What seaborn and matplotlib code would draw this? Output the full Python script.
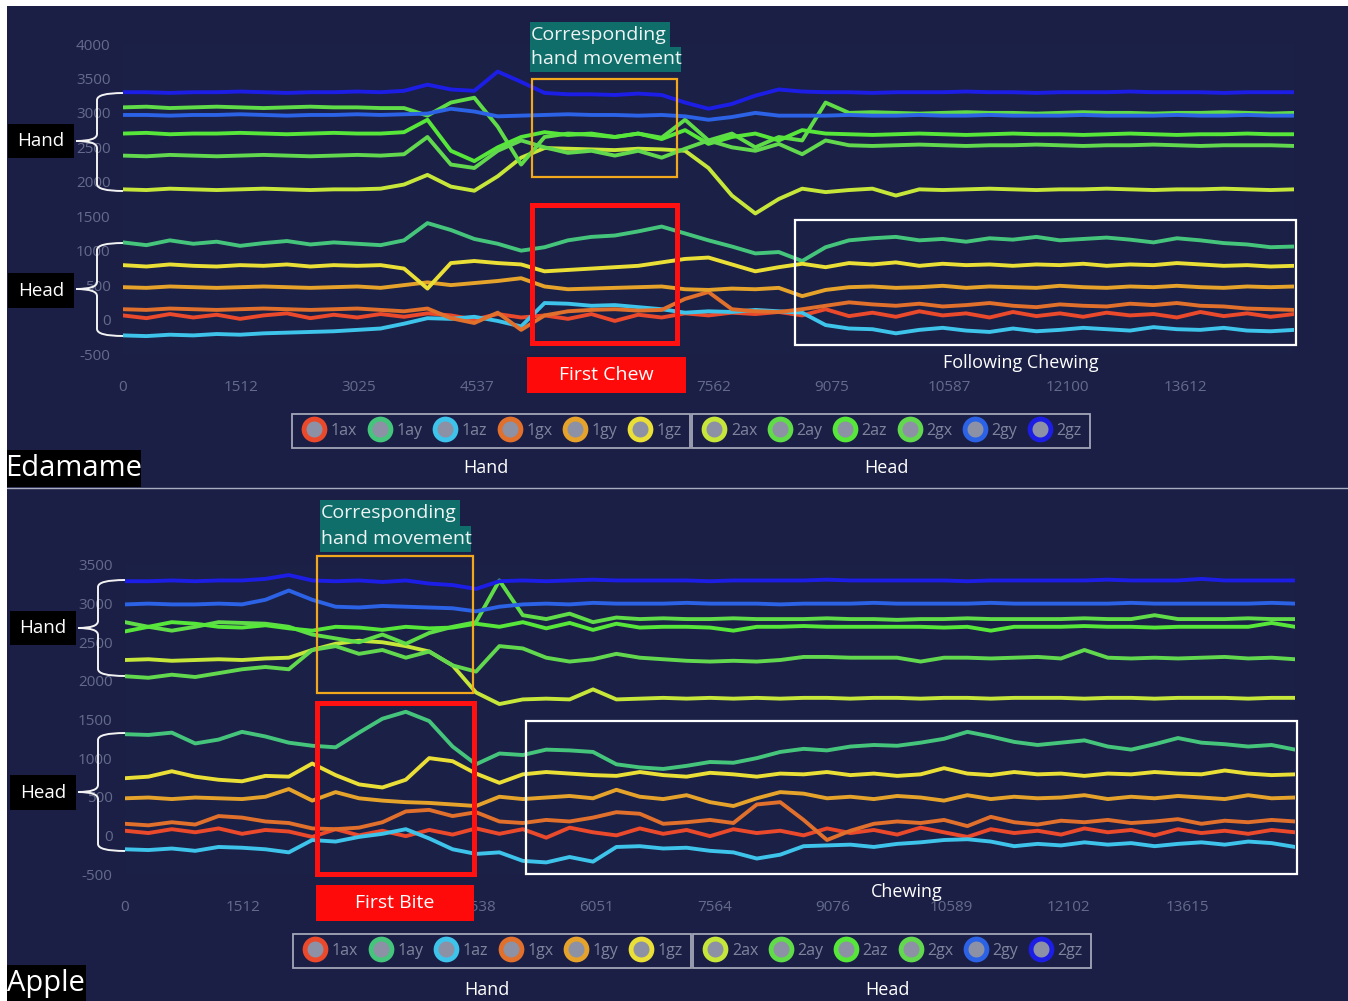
import matplotlib
matplotlib.use("Agg")
import matplotlib.pyplot as plt
from matplotlib.lines import Line2D
from matplotlib.patches import Rectangle, PathPatch
from matplotlib.path import Path
import pandas as pd
import seaborn as sns

# one reading every 300 samples
t = list(range(0, 15001, 300))

sensors = ["1ax", "1ay", "1az", "1gx", "1gy", "1gz", "2ax", "2ay", "2az", "2gx", "2gy", "2gz"]
colors = {
    "1ax": "#ea4a2b", "1ay": "#45c57c", "1az": "#3ec3ea", "1gx": "#e0702c",
    "1gy": "#e6a32b", "1gz": "#eadf36", "2ax": "#c6e63a", "2ay": "#5fdc48",
    "2az": "#57e63a", "2gx": "#62d84f", "2gy": "#2b62e6", "2gz": "#1c1ee6",
}

# ---- Edamame ----
ed_2gz = [3300, 3300, 3290, 3300, 3300, 3310, 3300, 3290, 3300, 3300, 3310, 3300, 3320,
          3410, 3340, 3320, 3600, 3450, 3290, 3270, 3270, 3260, 3280, 3260, 3150, 3060, 3130, 3250, 3340, 3310,
          3300, 3300, 3290, 3300, 3300, 3300, 3310, 3300, 3300, 3290, 3300, 3300, 3300, 3310, 3300, 3300,
          3300, 3290, 3300, 3300, 3300]
ed_2gy = [2970, 2970, 2960, 2970, 2970, 2980, 2970, 2960, 2970, 2970, 2980, 2970,
          2980, 2990, 3060, 3020, 2950, 2960, 2970, 2980, 2970, 2970, 2960, 2970, 2950, 2900, 2940, 3000, 2960, 2960,
          2960, 2970, 2960, 2960, 2970, 2960, 2960, 2970, 2960, 2960, 2960, 2970, 2960, 2960, 2960, 2970,
          2960, 2960, 2970, 2960, 2960]
ed_2ay = [3080, 3090, 3070, 3080, 3090, 3080, 3070, 3080, 3090, 3080, 3080, 3070,
          3070, 2960, 3150, 3220, 2800, 2250, 2650, 2700, 2680, 2650, 2700, 2640, 2900, 2600, 2700, 2500, 2650, 2600,
          3150, 3000, 3010, 3000, 2990, 3000, 3010, 3000, 3000, 2990, 3000, 3010, 3000, 3000, 2990, 3000,
          3000, 3010, 3000, 2990, 3000]
ed_2az = [2700, 2710, 2690, 2700, 2700, 2710, 2700, 2690, 2700, 2710, 2700, 2700,
          2720, 2900, 2450, 2300, 2500, 2650, 2720, 2680, 2700, 2650, 2700, 2620, 2750, 2550, 2650, 2700, 2600, 2750,
          2700, 2690, 2680, 2690, 2700, 2690, 2680, 2690, 2700, 2690, 2690, 2680, 2690, 2700, 2690, 2680,
          2690, 2690, 2700, 2690, 2690]
ed_2gx = [2380, 2370, 2390, 2380, 2370, 2380, 2390, 2380, 2370, 2380, 2390, 2380,
          2400, 2650, 2250, 2200, 2450, 2600, 2500, 2420, 2450, 2380, 2450, 2350, 2480, 2600, 2500, 2450, 2550, 2400,
          2600, 2530, 2520, 2530, 2540, 2530, 2520, 2530, 2530, 2540, 2530, 2520, 2530, 2530, 2540, 2530,
          2520, 2530, 2530, 2530, 2520]
ed_2ax = [1890, 1880, 1900, 1890, 1880, 1890, 1900, 1890, 1880, 1890, 1890,
          1900, 1960, 2100, 1930, 1870, 2080, 2350, 2490, 2480, 2470, 2460, 2480, 2470, 2450, 2200, 1800, 1540, 1750, 1900,
          1850, 1880, 1900, 1800, 1890, 1880, 1890, 1900, 1890, 1880, 1890, 1890, 1900, 1890, 1880, 1890,
          1890, 1900, 1890, 1880, 1890]
ed_1ay = [1120, 1080, 1150, 1100, 1130, 1070, 1110, 1140, 1090, 1120, 1100, 1080, 1150, 1400, 1300, 1170, 1100,
          1000, 1050, 1150, 1200, 1220, 1280, 1350, 1250, 1150, 1060, 960, 980, 850, 1050, 1150, 1180, 1200, 1150,
          1170, 1130, 1180, 1160, 1200, 1150, 1170, 1190, 1160, 1120, 1180, 1150, 1110, 1090, 1050, 1060]
ed_1gz = [790, 770, 800, 780, 770, 790, 780, 800, 770, 790, 780, 790, 740, 450, 820, 850, 820, 800, 700, 720,
          740, 760, 780, 830, 880, 900, 800, 700, 760, 810, 760, 820, 800, 830, 780, 810, 790, 800, 780, 800,
          790, 810, 780, 800, 790, 820, 800, 780, 790, 770, 780]
ed_1gy = [470, 460, 480, 470, 460, 470, 480, 470, 460, 470, 480, 460, 500, 540, 500, 530, 560, 600, 480, 440,
          450, 460, 470, 480, 440, 430, 450, 440, 460, 340, 430, 470, 480, 460, 470, 490, 460, 480, 470, 460,
          490, 470, 460, 480, 470, 490, 470, 460, 480, 470, 480]
ed_1gx = [150, 140, 160, 150, 140, 150, 160, 150, 140, 150, 160, 140, 120, 160, 20, -50, 100, -150, 60, 120,
          140, 150, 130, 140, 300, 400, 150, 120, 110, 150, 200, 250, 220, 200, 230, 190, 210, 240, 200, 180,
          220, 200, 190, 230, 210, 240, 200, 190, 160, 150, 140]
ed_1ax = [60, 20, 80, 30, 70, 10, 60, 90, 20, 70, 30, 80, 40, 90, 60, 0, 80, 30, 60, 10,
          80, -20, 70, 30, 90, 60, 100, 80, 110, 60, 150, 50, 100, 40, 120, 60, 90, 30, 110, 50,
          90, 40, 100, 60, 80, 30, 110, 50, 90, 40, 80]
ed_1az = [-230, -240, -220, -230, -210, -220, -200, -190, -180, -170, -150, -130, -60, 20, 10, 40, -20, -100, 240, 230,
          200, 210, 180, 150, 100, 120, 110, 140, 120, 100, -80, -130, -140, -200, -150, -120, -160, -180, -130, -170,
          -150, -120, -140, -160, -110, -140, -150, -120, -160, -170, -150]

# ---- Apple ----
ap_2gz = [3290, 3290, 3300, 3290, 3300, 3300, 3320, 3370, 3300, 3290, 3300, 3280, 3300, 3260, 3240, 3190, 3290,
          3300, 3290, 3300, 3310, 3300, 3300, 3300, 3300, 3290, 3300, 3300, 3300, 3300, 3310, 3300, 3300, 3300,
          3300, 3300, 3290, 3300, 3300, 3300, 3300, 3300, 3310, 3300, 3300, 3300, 3320, 3300, 3300, 3300, 3300]
ap_2gy = [2990, 3000, 2990, 2990, 3000, 2990, 3050, 3170, 3050, 2960, 2950, 2970, 2960, 2950, 2940, 2900, 2960,
          2990, 3000, 2990, 3010, 3000, 3000, 3000, 3010, 3000, 3000, 3000, 2990, 3000, 3000, 3000, 3010, 3000,
          3000, 3000, 3000, 3010, 3000, 3000, 3000, 3000, 3000, 3010, 3000, 3000, 3000, 3000, 3000, 3010, 3000]
ap_2ay = [2760, 2700, 2650, 2700, 2760, 2750, 2740, 2700, 2600, 2550, 2500, 2600, 2480, 2620, 2700, 2760, 3300,
          2850, 2800, 2870, 2760, 2820, 2800, 2810, 2800, 2800, 2810, 2800, 2800, 2800, 2810, 2800, 2800, 2790,
          2800, 2800, 2810, 2800, 2800, 2800, 2800, 2810, 2800, 2800, 2850, 2800, 2800, 2800, 2810, 2800, 2800]
ap_2az = [2640, 2700, 2760, 2740, 2700, 2690, 2720, 2680, 2650, 2700, 2690, 2660, 2700, 2680, 2690, 2740, 2700,
          2760, 2680, 2750, 2660, 2740, 2690, 2700, 2700, 2690, 2650, 2700, 2700, 2710, 2700, 2700, 2700, 2700,
          2700, 2690, 2700, 2650, 2700, 2700, 2700, 2710, 2700, 2700, 2690, 2700, 2700, 2700, 2700, 2750, 2700]
ap_2gx = [2060, 2040, 2080, 2050, 2100, 2150, 2180, 2150, 2400, 2450, 2350, 2400, 2300, 2380, 2200, 2120, 2450,
          2420, 2300, 2250, 2280, 2350, 2300, 2280, 2260, 2250, 2260, 2250, 2270, 2310, 2310, 2300, 2300, 2300,
          2250, 2300, 2300, 2290, 2300, 2310, 2290, 2400, 2300, 2290, 2300, 2290, 2300, 2310, 2290, 2300, 2280]
ap_2ax = [2270, 2280, 2260, 2270, 2280, 2270, 2290, 2300, 2400, 2480, 2520, 2500, 2450, 2380, 2200, 1850, 1700,
          1760, 1770, 1760, 1890, 1760, 1770, 1780, 1770, 1780, 1770, 1780, 1770, 1780, 1780, 1770, 1780, 1780,
          1770, 1780, 1780, 1770, 1780, 1780, 1780, 1770, 1780, 1780, 1770, 1780, 1780, 1780, 1770, 1780, 1780]
ap_1ay = [1310, 1300, 1330, 1190, 1240, 1340, 1280, 1200, 1160, 1140, 1330, 1510, 1600, 1480, 1150, 920, 1060,
          1040, 1110, 1100, 1080, 920, 880, 860, 900, 950, 940, 1000, 1080, 1120, 1100, 1150, 1170, 1160,
          1200, 1250, 1340, 1280, 1210, 1170, 1200, 1230, 1150, 1110, 1180, 1260, 1200, 1180, 1150, 1170, 1110]
ap_1gz = [740, 760, 830, 760, 720, 700, 770, 760, 930, 780, 660, 620, 720, 1000, 960, 800, 680, 790, 820, 800,
          780, 770, 820, 780, 760, 810, 790, 760, 800, 790, 820, 780, 800, 770, 790, 870, 800, 780, 820, 790,
          800, 770, 800, 790, 820, 800, 790, 840, 800, 780, 790]
ap_1gy = [480, 490, 470, 490, 480, 470, 500, 600, 450, 560, 480, 450, 430, 420, 400, 380, 500, 470, 490, 510,
          480, 590, 500, 470, 520, 430, 380, 480, 560, 540, 480, 500, 470, 510, 490, 450, 520, 470, 500, 480,
          490, 520, 470, 500, 480, 510, 490, 470, 520, 480, 490]
ap_1gx = [150, 130, 170, 140, 250, 230, 180, 160, 90, 80, 100, 170, 310, 330, 250, 300, 180, 160, 200, 180,
          230, 300, 280, 150, 170, 200, 160, 400, 430, 200, -60, 60, 150, 180, 160, 200, 120, 240, 170, 140,
          190, 170, 200, 160, 180, 210, 150, 190, 170, 200, 180]
ap_1ax = [60, 30, 80, 40, 90, 20, 70, 50, -20, 80, 0, 60, -10, 70, 10, 90, 20, 80, -30, 100,
          40, 0, 90, 20, 70, -10, 80, 30, 60, 0, 90, 30, 70, 10, 100, 40, -20, 80, 30, 60,
          10, 90, 40, 70, 0, 80, 30, 60, 20, 70, 40]
ap_1az = [-180, -190, -170, -200, -150, -160, -180, -220, -60, -80, -20, 20, 80, -40, -180, -240, -220, -330, -350, -280,
          -340, -150, -140, -170, -160, -200, -220, -300, -250, -140, -130, -120, -150, -110, -90, -60, -50, -80, -140, -110,
          -130, -90, -120, -100, -140, -110, -90, -120, -80, -100, -150]

# tick values; labels hidden behind the annotation boxes in the screenshot are left blank
ed_xticks = [0, 1512, 3025, 4537, 6050, 7562, 9075, 10587, 12100, 13612]
ed_xlabels = ["0", "1512", "3025", "4537", "", "7562", "9075", "10587", "12100", "13612"]
ap_xticks = [0, 1512, 3025, 4538, 6051, 7564, 9076, 10589, 12102, 13615]
ap_xlabels = ["0", "1512", "", "4538", "6051", "7564", "9076", "10589", "12102", "13615"]
ed_yticks = [-500, 0, 500, 1000, 1500, 2000, 2500, 3000, 3500, 4000]
ap_yticks = [-500, 0, 500, 1000, 1500, 2000, 2500, 3000, 3500]

edamame = {"1ax": ed_1ax, "1ay": ed_1ay, "1az": ed_1az, "1gx": ed_1gx, "1gy": ed_1gy, "1gz": ed_1gz,
           "2ax": ed_2ax, "2ay": ed_2ay, "2az": ed_2az, "2gx": ed_2gx, "2gy": ed_2gy, "2gz": ed_2gz}
apple = {"1ax": ap_1ax, "1ay": ap_1ay, "1az": ap_1az, "1gx": ap_1gx, "1gy": ap_1gy, "1gz": ap_1gz,
         "2ax": ap_2ax, "2ay": ap_2ay, "2az": ap_2az, "2gx": ap_2gx, "2gy": ap_2gy, "2gz": ap_2gz}

PAPER = "#1b1f46"
PLOT_BG = "#1b2046"
TICK = "#646b8a"

sns.set_theme(style="dark")
plt.rcParams["font.family"] = ["Open Sans", "DejaVu Sans"]
plt.rcParams["axes.unicode_minus"] = False

W, H = 1348, 1001
fig = plt.figure(figsize=(W / 100, H / 100), dpi=100, facecolor=PAPER)


def px(x, y):
    return (x / W, 1 - y / H)


def long_frame(series):
    rows = []
    for name, vals in series.items():
        for ti, v in zip(t, vals):
            rows.append((ti, v, name))
    return pd.DataFrame(rows, columns=["t", "value", "sensor"])


def draw_panel(x0, x1, ytop, ybot, data, ylim, yticks, xticks, xlabels):
    ax = fig.add_axes([x0 / W, 1 - ybot / H, (x1 - x0) / W, (ybot - ytop) / H])
    ax.set_facecolor(PLOT_BG)
    sns.lineplot(data=long_frame(data), x="t", y="value", hue="sensor", hue_order=sensors,
                 palette=colors, estimator=None, sort=False, lw=2.8, legend=False, ax=ax)
    ax.set_xlim(0, 15000)
    ax.set_ylim(*ylim)
    ax.set_xticks(xticks)
    ax.set_xticklabels(xlabels)
    ax.set_yticks(yticks)
    ax.set_yticklabels([str(v) for v in yticks])
    ax.tick_params(axis="both", colors=TICK, labelsize=11, length=0)
    ax.tick_params(axis="x", pad=19)
    ax.tick_params(axis="y", pad=9)
    ax.set_xlabel("")
    ax.set_ylabel("")
    ax.grid(False)
    for s in ax.spines.values():
        s.set_visible(False)
    return ax


def rect(x0, y0, x1, y1, fc="none", ec="none", lw=0, z=5):
    fig.patches.append(Rectangle(px(x0, y1), (x1 - x0) / W, (y1 - y0) / H, transform=fig.transFigure,
                                 facecolor=fc, edgecolor=ec, linewidth=lw, zorder=z))


def text(x, y, s, size, color="white", ha="center"):
    fig.text(*px(x, y), s, ha=ha, va="center", fontsize=size, color=color, zorder=7)


def label_box(x0, y0, x1, y1, s, size, fc="black", color="white", ha="center"):
    rect(x0, y0, x1, y1, fc=fc, z=6)
    tx = (x0 + x1) / 2 if ha == "center" else x0 + 1
    text(tx, (y0 + y1) / 2, s, size, color=color, ha=ha)


def brace(xe, xm, xt, y0, yc, y1, r=7):
    pts = [(xe, y0), (xm, y0), (xm, y0 + r), (xm, yc - r), (xm, yc), (xt, yc),
           (xm, yc), (xm, yc + r), (xm, y1 - r), (xm, y1), (xe, y1)]
    codes = [Path.MOVETO, Path.CURVE3, Path.CURVE3, Path.LINETO, Path.CURVE3, Path.CURVE3,
             Path.CURVE3, Path.CURVE3, Path.LINETO, Path.CURVE3, Path.CURVE3]
    path = Path([px(x, y) for x, y in pts], codes)
    fig.patches.append(PathPatch(path, transform=fig.transFigure, fill=False,
                                 edgecolor="#f2f2f2", linewidth=1.4, zorder=6))


def legend_pair(yc, xa, xb, ycap):
    groups = [(sensors[:6], xa, "Hand"), (sensors[6:], xb, "Head")]
    for names, xc, cap in groups:
        handles = [Line2D([], [], marker="o", linestyle="", markersize=15, markerfacecolor="#8d91a5",
                          markeredgecolor=colors[n], markeredgewidth=3.5) for n in names]
        leg = fig.legend(handles, names, loc="center", bbox_to_anchor=px(xc, yc), ncol=6,
                         fontsize=11.5, labelcolor="#7f849c", frameon=True, fancybox=False,
                         handlelength=1.75, handletextpad=0.15, columnspacing=0.55, borderpad=0.55,
                         borderaxespad=0)
        leg.get_frame().set_facecolor("none")
        leg.get_frame().set_edgecolor("#c6c8d4")
        leg.get_frame().set_linewidth(1.3)
        text(xc - 5, ycap, cap, 13)


# panels
draw_panel(123, 1294, 44, 354, edamame, (-500, 4000), ed_yticks, ed_xticks, ed_xlabels)
draw_panel(125, 1295, 565, 874, apple, (-500, 3500), ap_yticks, ap_xticks, ap_xlabels)

# screenshot frame
rect(0, 0, W, 6, fc="white", z=8)
rect(0, 0, 7, H, fc="white", z=8)
fig.lines.append(Line2D([7 / W, 1], [1 - 488 / H] * 2, transform=fig.transFigure, color="#a9adbd", lw=1, zorder=5))

# ---- Edamame annotations ----
label_box(530, 22, 670, 47, "Corresponding", 14, fc="#0f6d6a", color="#eef4f4", ha="left")
label_box(530, 47, 681, 72, "hand movement", 14, fc="#0f6d6a", color="#eef4f4", ha="left")
rect(532, 79, 677, 177, ec="#f2a81c", lw=1.6)
rect(532, 205, 677, 343, ec="#ff1111", lw=3.6)
label_box(527, 357, 686, 393, "First Chew", 14, fc="#ff0a0a")
rect(795, 220, 1296, 345, ec="white", lw=1.6)
text(1021, 363, "Following Chewing", 13)
label_box(8, 124, 74, 158, "Hand", 13.5)
label_box(8, 273, 74, 308, "Head", 13.5)
brace(123, 97, 76, 93, 141, 191)
brace(123, 97, 76, 243, 289, 336)
label_box(6, 450, 141, 487, "Edamame", 21)
legend_pair(431, 491, 891, 468)

# ---- Apple annotations ----
label_box(320, 500, 460, 526, "Corresponding", 14, fc="#0f6d6a", color="#eef4f4", ha="left")
label_box(320, 526, 471, 552, "hand movement", 14, fc="#0f6d6a", color="#eef4f4", ha="left")
rect(317, 556, 473, 693, ec="#f2a81c", lw=1.6)
rect(317, 703, 474, 874, ec="#ff1111", lw=3.6)
label_box(316, 885, 474, 921, "First Bite", 14, fc="#ff0a0a")
rect(526, 721, 1297, 874, ec="white", lw=1.6)
text(907, 892, "Chewing", 13)
label_box(10, 611, 76, 645, "Hand", 13.5)
label_box(10, 775, 76, 810, "Head", 13.5)
brace(125, 98, 78, 580, 628, 676)
brace(125, 98, 78, 733, 792, 851)
label_box(6, 965, 86, 1003, "Apple", 21)
legend_pair(951, 492, 892, 990)

fig.savefig("out.png", dpi=100, facecolor=fig.get_facecolor())
